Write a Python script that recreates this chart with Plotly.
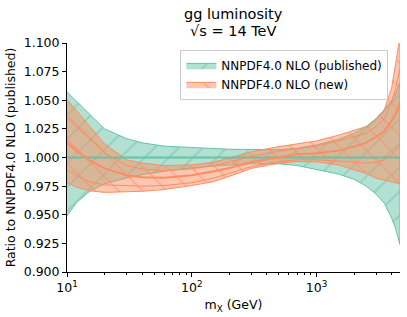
import plotly.graph_objects as go

# mass points (GeV)
mx = [10, 12, 15, 20, 30, 40, 60, 100, 150, 200, 300, 500, 700, 1000, 1500,
      2000, 2500, 3000, 3500, 4000, 4300, 4667]

# NNPDF4.0 NLO (published) - ratio to itself
pub_center = [1.0] * len(mx)
pub_up = [1.0573, 1.049, 1.038, 1.025, 1.0165, 1.0128, 1.0099, 1.0087, 1.0078, 1.0072,
          1.007, 1.0068, 1.008, 1.011, 1.016, 1.021, 1.027, 1.034, 1.042, 1.050, 1.056, 1.066]
pub_lo = [0.949, 0.961, 0.970, 0.977, 0.982, 0.985, 0.988, 0.991, 0.9925, 0.9935,
          0.9945, 0.9945, 0.993, 0.9895, 0.9855, 0.981, 0.975, 0.968, 0.960, 0.947, 0.938, 0.924]

# NNPDF4.0 NLO (new)
new_center = [1.0128, 1.0055, 0.998, 0.9905, 0.9845, 0.9828, 0.9823, 0.9845, 0.988, 0.9908,
              0.996, 1.0005, 1.0028, 1.0038, 1.006, 1.0095, 1.013, 1.018, 1.023, 1.032, 1.038, 1.048]
new_up = [1.0506, 1.040, 1.028, 1.012, 0.998, 0.9952, 0.993, 0.9935, 0.996, 0.9995,
          1.005, 1.0095, 1.012, 1.0145, 1.0195, 1.024, 1.027, 1.033, 1.042, 1.061, 1.082, 1.105]
new_lo = [0.978, 0.974, 0.971, 0.9695, 0.970, 0.9705, 0.972, 0.9755, 0.979, 0.9835,
          0.9905, 0.995, 0.9965, 0.9962, 0.9935, 0.9895, 0.986, 0.982, 0.980, 0.979, 0.978, 0.977]
new_in_up = [1.0346, 1.027, 1.017, 1.004, 0.993, 0.990, 0.9885, 0.990, 0.993, 0.996,
             1.001, 1.0055, 1.008, 1.010, 1.0145, 1.018, 1.021, 1.027, 1.034, 1.048, 1.060, 1.078]
new_in_lo = [0.9895, 0.984, 0.979, 0.976, 0.9755, 0.975, 0.9755, 0.978, 0.982, 0.986,
             0.992, 0.9965, 0.998, 0.998, 0.997, 0.996, 0.995, 0.996, 0.998, 1.002, 1.006, 1.012]

y_ticks = [0.900, 0.925, 0.950, 0.975, 1.000, 1.025, 1.050, 1.075, 1.100]
x_ticks = [10, 100, 1000]
x_ticklabels = ["10<sup>1</sup>", "10<sup>2</sup>", "10<sup>3</sup>"]
title_lines = ["gg luminosity", "√s = 14 TeV"]

GREEN = "#66c2a5"
ORANGE = "#fc8d62"

fig = go.Figure()

# published band
fig.add_trace(go.Scatter(
    x=mx + mx[::-1], y=pub_up + pub_lo[::-1], fill="toself",
    fillcolor="rgba(102,194,165,0.5)",
    fillpattern=dict(shape="/", fgcolor=GREEN, bgcolor="rgba(102,194,165,0.5)",
                     size=17, solidity=0.1, fillmode="overlay"),
    line=dict(color=GREEN, width=1), name="NNPDF4.0 NLO (published)",
    hoverinfo="skip"))

# new band
fig.add_trace(go.Scatter(
    x=mx + mx[::-1], y=new_up + new_lo[::-1], fill="toself",
    fillcolor="rgba(252,141,98,0.5)",
    fillpattern=dict(shape="\\", fgcolor=ORANGE, bgcolor="rgba(252,141,98,0.5)",
                     size=17, solidity=0.1, fillmode="overlay"),
    line=dict(color=ORANGE, width=1), name="NNPDF4.0 NLO (new)",
    hoverinfo="skip"))

# central lines on top
fig.add_trace(go.Scatter(x=mx, y=pub_center, mode="lines",
                         line=dict(color=GREEN, width=2), showlegend=False))
fig.add_trace(go.Scatter(x=mx, y=new_in_up, mode="lines",
                         line=dict(color=ORANGE, width=1), showlegend=False))
fig.add_trace(go.Scatter(x=mx, y=new_in_lo, mode="lines",
                         line=dict(color=ORANGE, width=1), showlegend=False))
fig.add_trace(go.Scatter(x=mx, y=new_center, mode="lines",
                         line=dict(color=ORANGE, width=2), showlegend=False))

font = "DejaVu Sans"
fig.update_layout(
    width=407, height=317,
    margin=dict(l=67, r=7, t=43, b=45),
    paper_bgcolor="white", plot_bgcolor="white",
    font=dict(family=font, size=12.5, color="black"),
    showlegend=True,
    legend=dict(x=0.965, xanchor="right", y=0.97, yanchor="top",
                bgcolor="rgba(255,255,255,0.8)", bordercolor="#cccccc", borderwidth=1,
                font=dict(family=font, size=12), tracegroupgap=0, itemwidth=30),
    xaxis=dict(type="log", range=[1, 3.669], tickmode="array", tickvals=x_ticks,
               ticktext=x_ticklabels, ticks="outside", ticklen=4, tickcolor="black",
               showline=True, linecolor="black", linewidth=1, showgrid=False,
               zeroline=False, mirror=False,
               minor=dict(ticks="outside", ticklen=2, tickcolor="black",
                          tickmode="array",
                          tickvals=[20, 30, 40, 50, 60, 70, 80, 90, 200, 300, 400, 500,
                                    600, 700, 800, 900, 2000, 3000, 4000]),
               title=dict(text="m<sub>X</sub> (GeV)", font=dict(family=font, size=12.5), standoff=6)),
    yaxis=dict(range=[0.9, 1.1], tickmode="array", tickvals=y_ticks,
               ticktext=[f"{v:.3f}" for v in y_ticks], ticks="outside", ticklen=4,
               tickcolor="black", showline=True, linecolor="black", linewidth=1,
               showgrid=False, zeroline=False,
               title=dict(text="Ratio to NNPDF4.0 NLO (published)",
                          font=dict(family=font, size=12.5), standoff=5)),
)

for txt, yy in zip(title_lines, [1 + (43 - 14) / 229, 1 + (43 - 31) / 229]):
    fig.add_annotation(text=txt, xref="paper", yref="paper", x=0.5, y=yy,
                       xanchor="center", yanchor="middle", showarrow=False,
                       font=dict(family=font, size=14.5, color="black"))

fig.write_html("out.html", config={"displayModeBar": False},
               post_script="document.body.style.margin='0';document.body.style.padding='0';")
